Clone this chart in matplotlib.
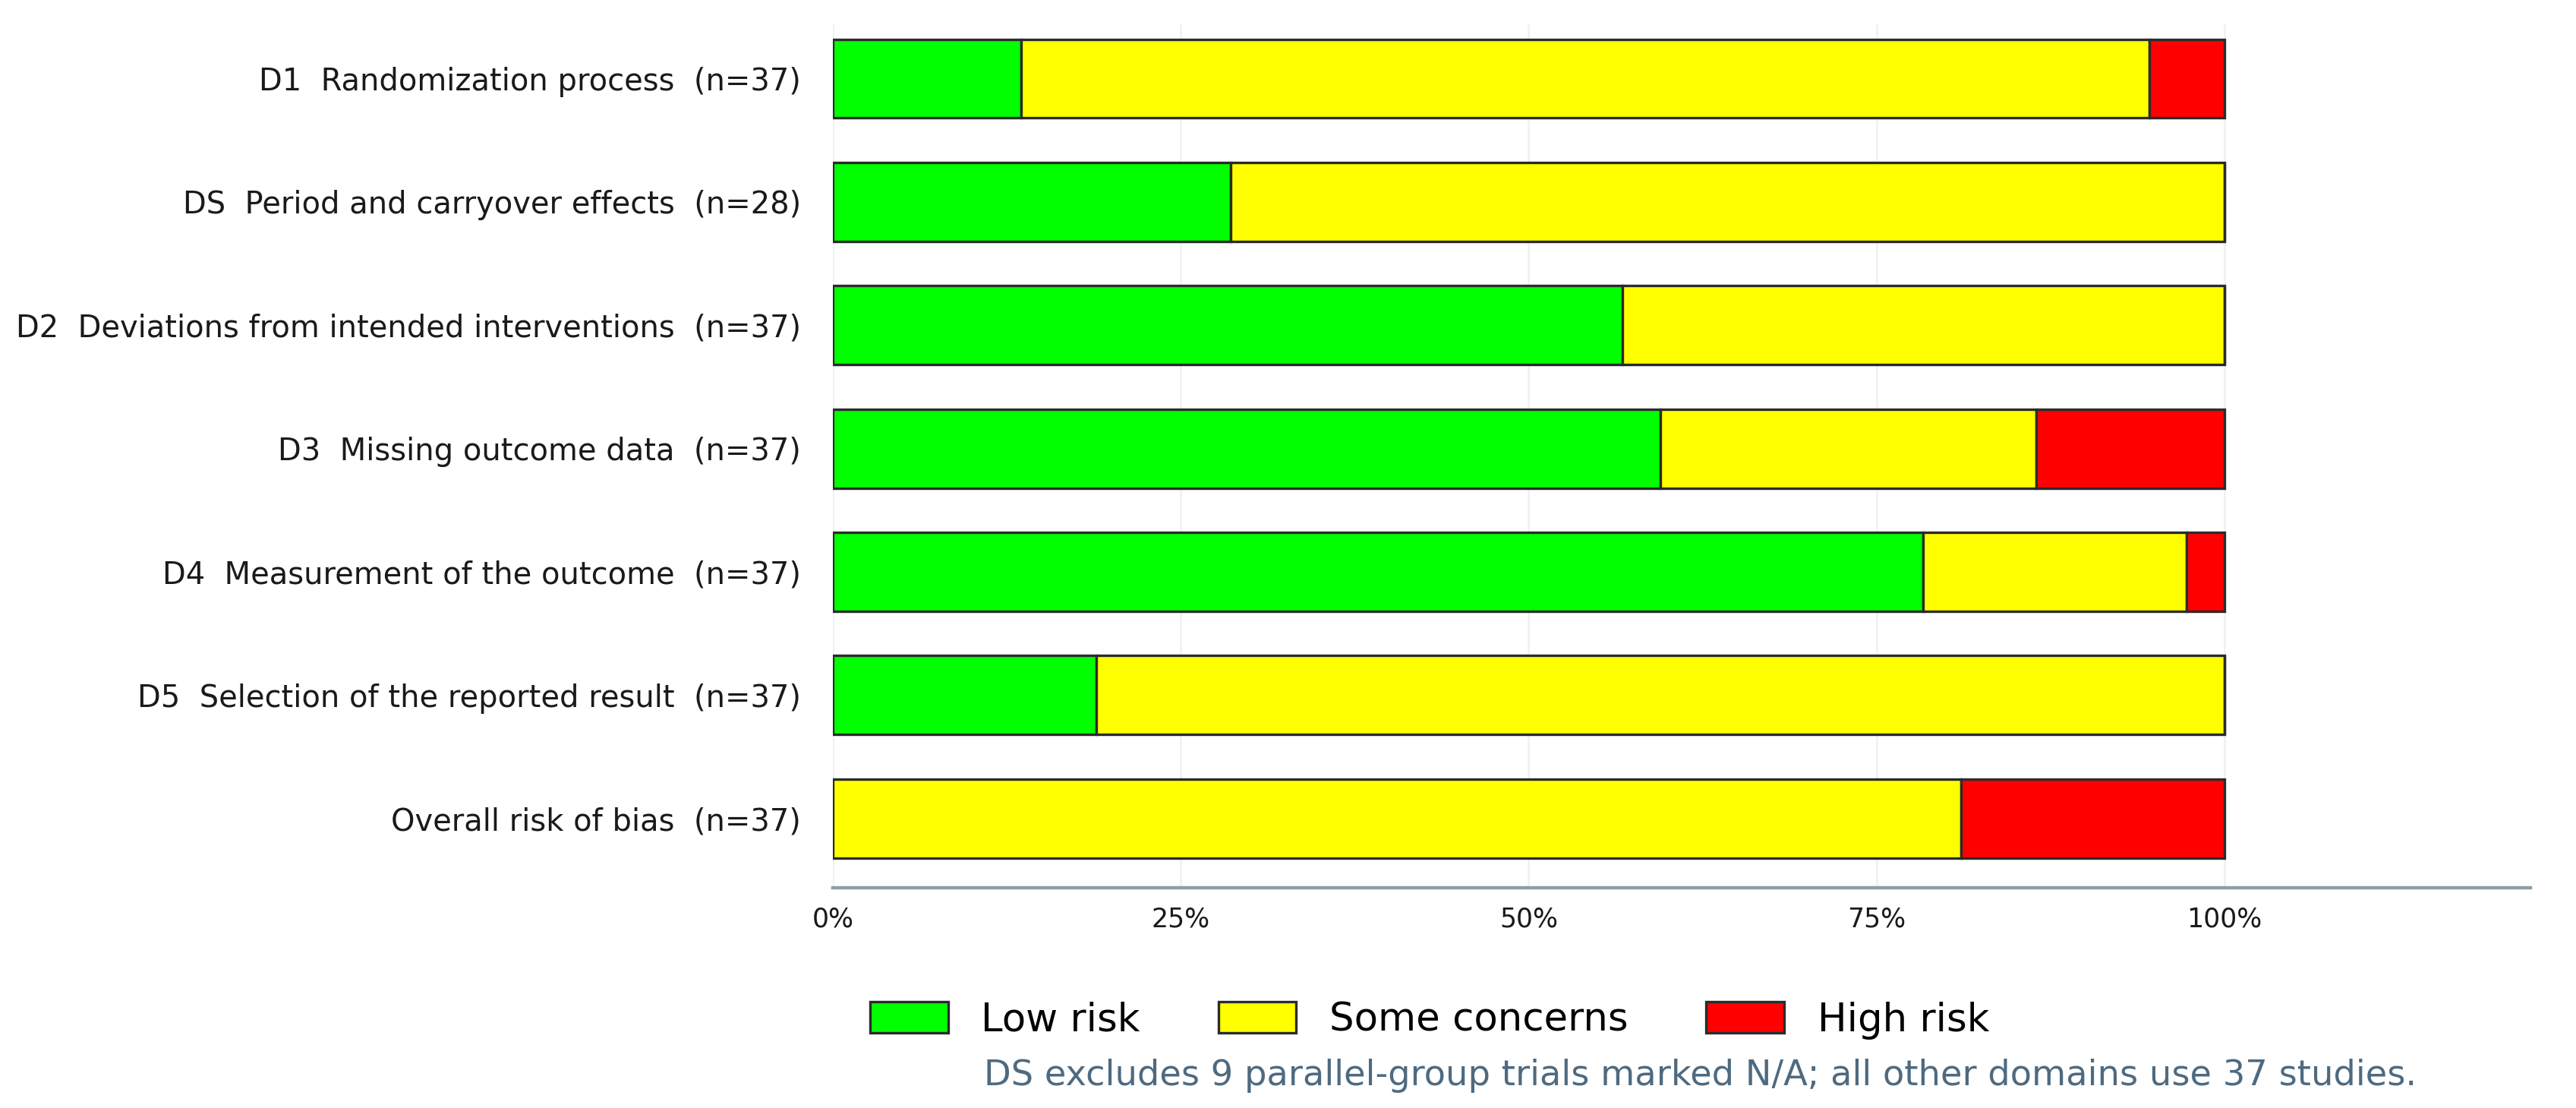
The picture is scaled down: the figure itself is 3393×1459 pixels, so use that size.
import numpy as np
import matplotlib.pyplot as plt
from matplotlib.patches import Patch

# Risk-of-bias summary data (study counts per domain)
domains = ['D1  Randomization process',
           'DS  Period and carryover effects',
           'D2  Deviations from intended interventions',
           'D3  Missing outcome data',
           'D4  Measurement of the outcome',
           'D5  Selection of the reported result',
           'Overall risk of bias']
n_studies = np.array([37, 28, 37, 37, 37, 37, 37])
low_risk = np.array([5, 8, 21, 22, 29, 7, 0])
some_concerns = np.array([30, 20, 16, 10, 7, 30, 30])
high_risk = np.array([2, 0, 0, 5, 1, 0, 7])

categories = ['Low risk', 'Some concerns', 'High risk']
colors = ['#00ff00', '#ffff00', '#ff0000']
xticks = [0, 25, 50, 75, 100]
note = 'DS excludes 9 parallel-group trials marked N/A; all other domains use 37 studies.'

# Percentages
counts = [low_risk, some_concerns, high_risk]
pcts = [c / n_studies * 100 for c in counts]
labels = [f'{d}  (n={n})' for d, n in zip(domains, n_studies)]

fig = plt.figure(figsize=(16.965, 7.295), dpi=200)
ax = fig.add_axes([0.3233, 0.199, 0.659, 0.779])

y = np.arange(len(domains))
left = np.zeros(len(domains))
for pct, col in zip(pcts, colors):
    ax.barh(y, pct, left=left, height=0.64, color=col, edgecolor='#2b2b2b',
            linewidth=1.2, zorder=3)
    left += pct

ax.set_ylim(len(domains) - 0.44, -0.44)
ax.set_xlim(0, 122)
ax.set_yticks(y)
ax.set_yticklabels(labels, fontsize=14.4, color='#1a1a1a')
ax.set_xticks(xticks)
ax.set_xticklabels([f'{t}%' for t in xticks], fontsize=12.5, color='#1a1a1a')
ax.tick_params(axis='y', length=0, pad=15)
ax.tick_params(axis='x', length=0, pad=9)

for t in xticks:
    ax.axvline(t, color='#eef1f3', linewidth=0.9, zorder=0)

for side in ['top', 'right', 'left']:
    ax.spines[side].set_visible(False)
ax.spines['bottom'].set_color('#8d9daa')
ax.spines['bottom'].set_linewidth(1.6)

handles = [Patch(facecolor=c, edgecolor='#2b2b2b', linewidth=1.2) for c in colors]
fig.legend(handles, categories, loc='center', bbox_to_anchor=(0.555, 0.079),
           ncol=3, frameon=False, fontsize=18.5, handlelength=2.0,
           handleheight=0.85, handletextpad=0.85, columnspacing=2.0)

fig.text(0.660, 0.029, note, ha='center', va='center', fontsize=16.7,
         color='#4e6a80')

fig.savefig('out.png', dpi=200, facecolor='white')
